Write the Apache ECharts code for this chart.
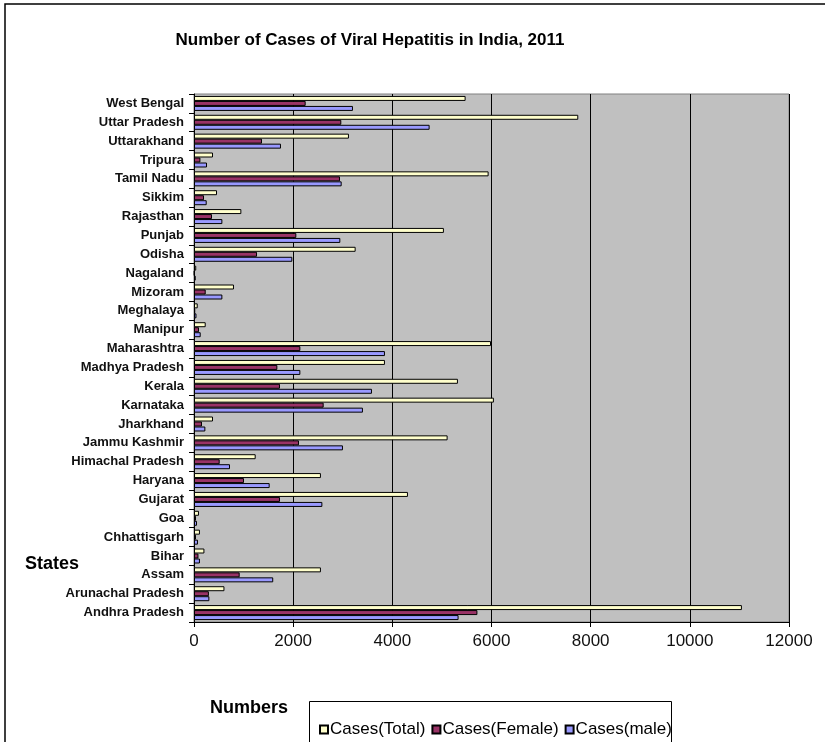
<!DOCTYPE html>
<html>
<head>
<meta charset="utf-8">
<script src="https://cdn.jsdelivr.net/npm/echarts@6/dist/echarts.min.js"></script>
<style>html,body{margin:0;padding:0;background:#fff;}#c{width:825px;height:742px;}</style>
</head>
<body>
<div id="c"></div>
<script>
const states = ['Andhra Pradesh','Arunachal Pradesh','Assam','Bihar','Chhattisgarh','Goa','Gujarat','Haryana','Himachal Pradesh','Jammu Kashmir','Jharkhand','Karnataka','Kerala','Madhya Pradesh','Maharashtra','Manipur','Meghalaya','Mizoram','Nagaland','Odisha','Punjab','Rajasthan','Sikkim','Tamil Nadu','Tripura','Uttarakhand','Uttar Pradesh','West Bengal'];
const casesTotal  = [11050, 614, 2560, 210, 120, 100, 4315, 2560, 1244, 5115, 383, 6048, 5323, 3851, 5990, 236, 75, 806, 45, 3260, 5040, 955, 464, 5942, 383, 3125, 7750, 5478];
const casesFemale = [5716, 300, 921, 90, 40, 40, 1734, 1008, 518, 2117, 161, 2615, 1734, 1681, 2145, 101, 25, 236, 10, 1271, 2064, 363, 202, 2944, 129, 1371, 2971, 2252];
const casesMale   = [5336, 310, 1598, 120, 80, 60, 2589, 1526, 726, 3004, 229, 3407, 3589, 2145, 3851, 135, 50, 572, 35, 1983, 2951, 572, 256, 2978, 262, 1754, 4752, 3206];
const xTicks = {min: 0, max: 12000, interval: 2000};

const FONT = '"Liberation Sans", Arial, sans-serif';
const chart = echarts.init(document.getElementById('c'), null, {renderer: 'canvas'});
const barStyle = c => ({color: c, borderColor: '#000', borderWidth: 1});
chart.setOption({
  animation: false,
  backgroundColor: '#fff',
  textStyle: {fontFamily: FONT},
  title: {
    text: 'Number of Cases of Viral Hepatitis in India, 2011',
    left: 365, top: 27, textAlign: 'center',
    textStyle: {fontFamily: FONT, fontSize: 17, fontWeight: 'bold', color: '#000'}
  },
  grid: {
    left: 194, right: 36, top: 94, bottom: 120,
    show: true, backgroundColor: '#C0C0C0', borderColor: '#808080', borderWidth: 1
  },
  legend: {
    data: ['Cases(Total)', 'Cases(Female)', 'Cases(male)'],
    left: 314, top: 716,
    itemWidth: 8, itemHeight: 8, itemGap: 6,
    icon: 'rect',
    textStyle: {fontFamily: FONT, fontSize: 17, color: '#000', padding: [0, 0, 0, -3]}
  },
  xAxis: {
    type: 'value', min: xTicks.min, max: xTicks.max, interval: xTicks.interval,
    axisLine: {show: true, lineStyle: {color: '#000', width: 1}},
    axisTick: {show: true, length: 5, lineStyle: {color: '#000'}},
    axisLabel: {fontFamily: FONT, fontSize: 17, color: '#111', margin: 11, formatter: v => String(v)},
    splitLine: {show: true, lineStyle: {color: '#000', width: 1}}
  },
  yAxis: {
    type: 'category', data: states,
    axisLine: {show: true, lineStyle: {color: '#000', width: 1}},
    axisTick: {show: true, length: 5, lineStyle: {color: '#000'}},
    axisLabel: {fontFamily: FONT, fontSize: 13, fontWeight: 'bold', color: '#111', margin: 10, interval: 0},
    splitLine: {show: false}
  },
  series: [
    {name: 'Cases(Total)', type: 'bar', data: casesTotal, barWidth: 5, barGap: '0%', itemStyle: barStyle('#FFFFCC')},
    {name: 'Cases(Female)', type: 'bar', data: casesFemale, barWidth: 5, barGap: '0%', itemStyle: barStyle('#993366')},
    {name: 'Cases(male)', type: 'bar', data: casesMale, barWidth: 5, barGap: '0%', itemStyle: barStyle('#9999FF')}
  ],
  graphic: [
    {type: 'rect', z: -1, silent: true, shape: {x: 5, y: 4, width: 1000, height: 1000},
     style: {fill: 'none', stroke: '#000', lineWidth: 1.5}},
    {type: 'rect', z: 0, silent: true, shape: {x: 309.5, y: 701.5, width: 362, height: 80},
     style: {fill: '#fff', stroke: '#000', lineWidth: 1}},
    {type: 'text', left: 25, top: 555, silent: true,
     style: {text: 'States', font: 'bold 18px ' + FONT, fill: '#000'}},
    {type: 'text', left: 210, top: 699, silent: true,
     style: {text: 'Numbers', font: 'bold 18px ' + FONT, fill: '#000'}}
  ]
});
</script>
</body>
</html>
